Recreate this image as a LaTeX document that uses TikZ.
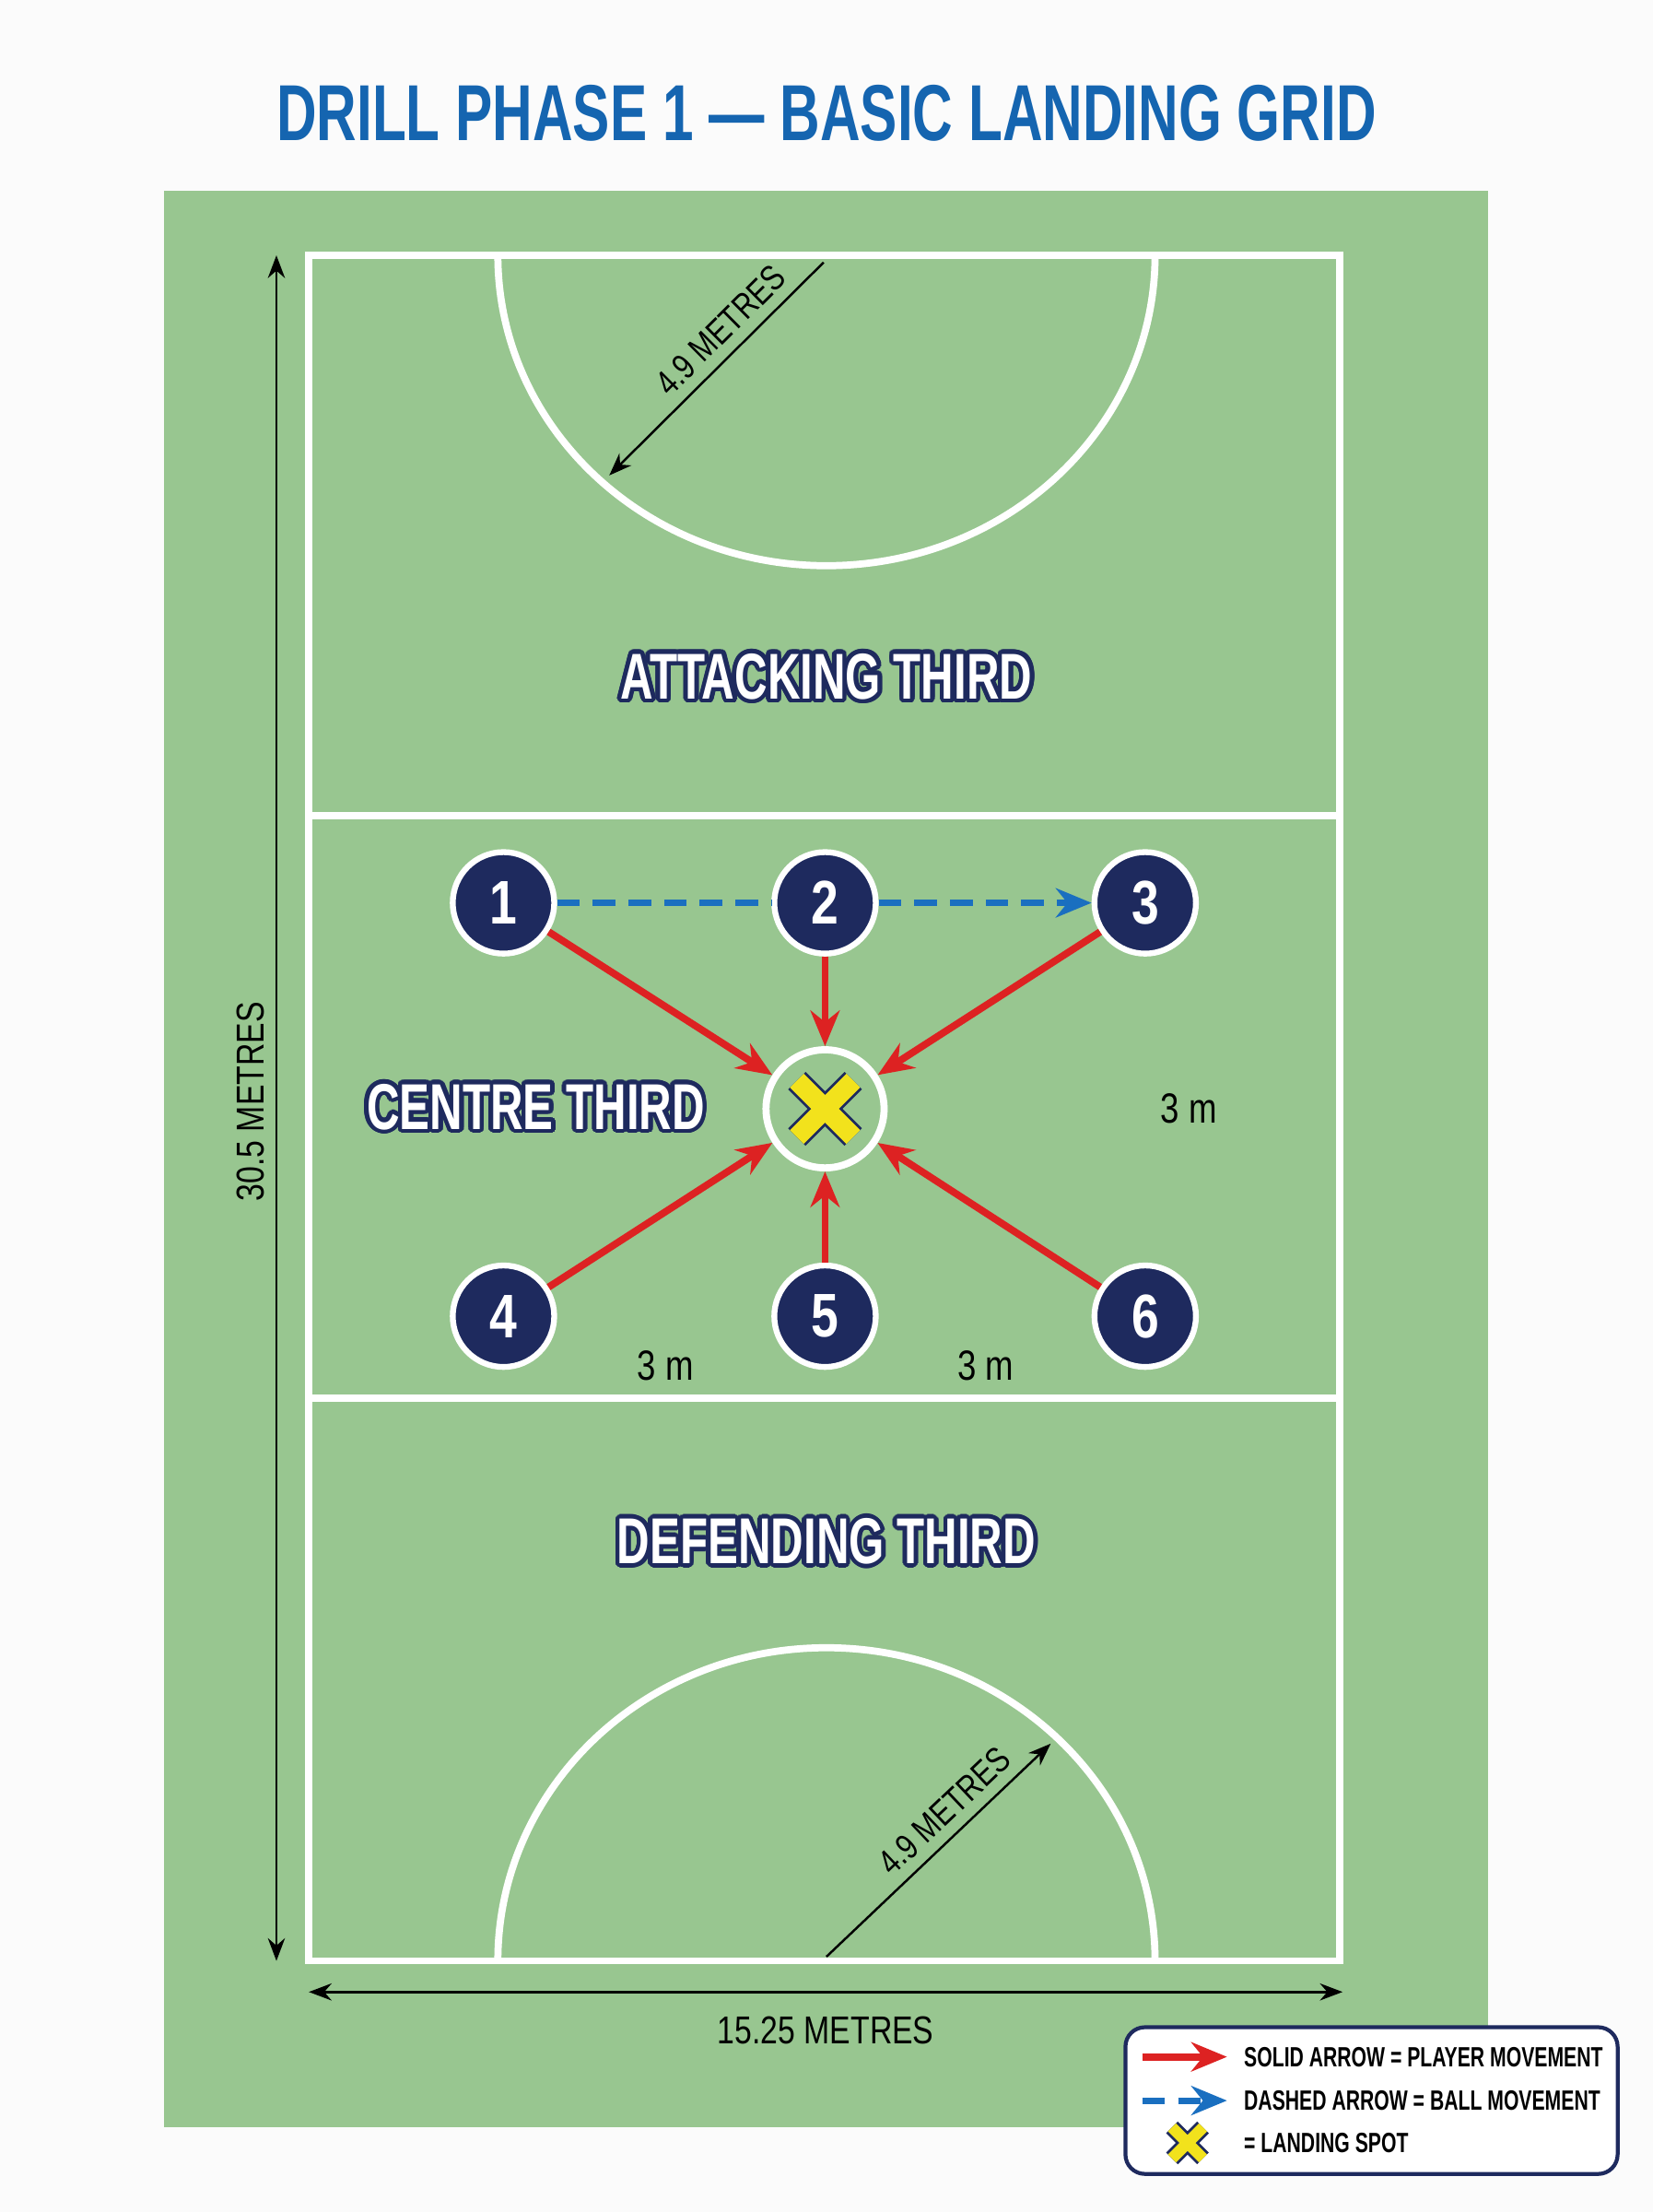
\documentclass[tikz,border=0pt]{standalone}
\usepackage{fontspec}
\setmainfont{Liberation Sans}
\newfontfamily\cond[FakeStretch=0.8]{Liberation Sans}
\newfontfamily\narrow[FakeStretch=0.7]{Liberation Sans}
\usepackage{contour}
\contourlength{1.3pt}
\contournumber{24}
\usetikzlibrary{arrows.meta,positioning}
\definecolor{courtgreen}{HTML}{98C690}
\definecolor{navy}{HTML}{1E2A5E}
\definecolor{titleblue}{HTML}{1565B0}
\definecolor{arrowred}{HTML}{DD2222}
\definecolor{ballblue}{HTML}{1A6FC0}
\definecolor{spotyellow}{HTML}{F2E21C}
\tikzset{
  courtline/.style={draw=white,line width=2.2pt},
  player/.style={circle,fill=navy,draw=white,line width=1.8pt,minimum size=1.1cm,inner sep=0pt,text=white,font=\cond\bfseries\fontsize{19}{19}\selectfont},
  zone/.style={font=\narrow\bfseries\fontsize{20}{20}\selectfont,text=white},
  dim/.style={{Stealth[length=7pt]}-{Stealth[length=7pt]},line width=0.8pt},
  move/.style={-{Stealth[length=11pt,width=9pt]},draw=arrowred,line width=2.2pt},
  ball/.style={-{Stealth[length=11pt,width=9pt]},draw=ballblue,line width=2pt,dash pattern=on 7pt off 4pt},
  lbl/.style={font=\cond\fontsize{11}{11}\selectfont},
  legtext/.style={anchor=west,font=\narrow\bfseries\fontsize{8.6}{8.6}\selectfont},
}
\newcommand{\spotx}[4]{%
  \draw[line width=#4+1.6pt,draw=navy] (#1-#3,#2-#3) -- (#1+#3,#2+#3) (#1-#3,#2+#3) -- (#1+#3,#2-#3);
  \draw[line width=#4,draw=spotyellow] (#1-#3,#2-#3) -- (#1+#3,#2+#3) (#1-#3,#2+#3) -- (#1+#3,#2-#3);}
\begin{document}
\begin{tikzpicture}[x=0.01529cm,y=-0.01529cm]
\useasboundingbox (0,0) rectangle (1172,1568);
\fill[white!97!gray] (0,0) rectangle (1172,1568);
\node[font=\narrow\bfseries\fontsize{24.5}{24.5}\selectfont,text=titleblue] (title) at (586,80) {DRILL PHASE 1 — BASIC LANDING GRID};
\fill[courtgreen] (116,135) rectangle (1055,1508);
% court
\draw[courtline] (219,181) rectangle (950,1390);
\draw[courtline] (219,578) -- (950,578) (219,991) -- (950,991);
\draw[courtline] (353,181) arc[start angle=180,end angle=360,x radius=233,y radius=-220];
\draw[courtline] (353,1390) arc[start angle=180,end angle=0,x radius=233,y radius=-222];
% radius marks
\coordinate (ctop) at (584,186);
\coordinate (rtop) at (432,337);
\draw[-{Stealth[length=7pt]},line width=0.7pt] (ctop) -- node[sloped,above,lbl,pos=0.4]{4.9 METRES} (rtop);
\coordinate (cbot) at (586,1387);
\coordinate (rbot) at (745,1236);
\draw[-{Stealth[length=7pt]},line width=0.7pt] (cbot) -- node[sloped,above,lbl,pos=0.6]{4.9 METRES} (rbot);
% dimensions
\coordinate (vt) at (196,181);
\coordinate (vb) at (196,1390);
\draw[dim] (vt) -- node[rotate=90,above=2pt,font=\cond\fontsize{12}{12}\selectfont]{30.5 METRES} (vb);
\coordinate (hl) at (219,1412);
\coordinate (hr) at (952,1412);
\draw[dim] (hl) -- node[below=4pt,font=\cond\fontsize{12}{12}\selectfont]{15.25 METRES} (hr);
% zones
\node[zone] (att) at (586,481) {\contour{navy}{ATTACKING THIRD}};
\node[zone] (cen) at (380,786) {\contour{navy}{CENTRE THIRD}};
\node[zone] (def) at (586,1094) {\contour{navy}{DEFENDING THIRD}};
% landing spot
\node[circle,draw=white,line width=2.2pt,minimum size=1.28cm] (spot) at (585,786) {};
\spotx{585}{786}{20}{6pt}
% players
\node[player] (p1) at (357,640) {1};
\node[player] (p2) at (585,640) {2};
\node[player] (p3) at (812,640) {3};
\node[player] (p4) at (357,933) {4};
\node[player] (p5) at (585,933) {5};
\node[player] (p6) at (812,933) {6};
\foreach \p in {p1,p2,p3,p4,p5,p6}
  \draw[move] (\p) -- (spot);
\draw[ball,-] (p1) -- (p2);
\draw[ball] (p2) -- (p3);
\node[font=\cond\fontsize{13}{13}\selectfont] (m1) at (843,786) {3 m};
\node[font=\cond\fontsize{13}{13}\selectfont] (m2) at (472,968) {3 m};
\node[font=\cond\fontsize{13}{13}\selectfont] (m3) at (699,968) {3 m};
% legend
\draw[navy,fill=white,line width=1.2pt,rounded corners=6pt] (798,1437) rectangle (1147,1541);
\coordinate (la1) at (810,1458); \coordinate (lb1) at (870,1458);
\coordinate (la2) at (810,1489); \coordinate (lb2) at (870,1489);
\draw[move] (la1) -- (lb1);
\draw[ball] (la2) -- (lb2);
\spotx{842}{1519}{11}{3.5pt}
\node[legtext] (t1) at (874,1458) {SOLID ARROW = PLAYER MOVEMENT};
\node[legtext] (t2) at (874,1489) {DASHED ARROW = BALL MOVEMENT};
\node[legtext] (t3) at (874,1519) {= LANDING SPOT};
\end{tikzpicture}
\end{document}
